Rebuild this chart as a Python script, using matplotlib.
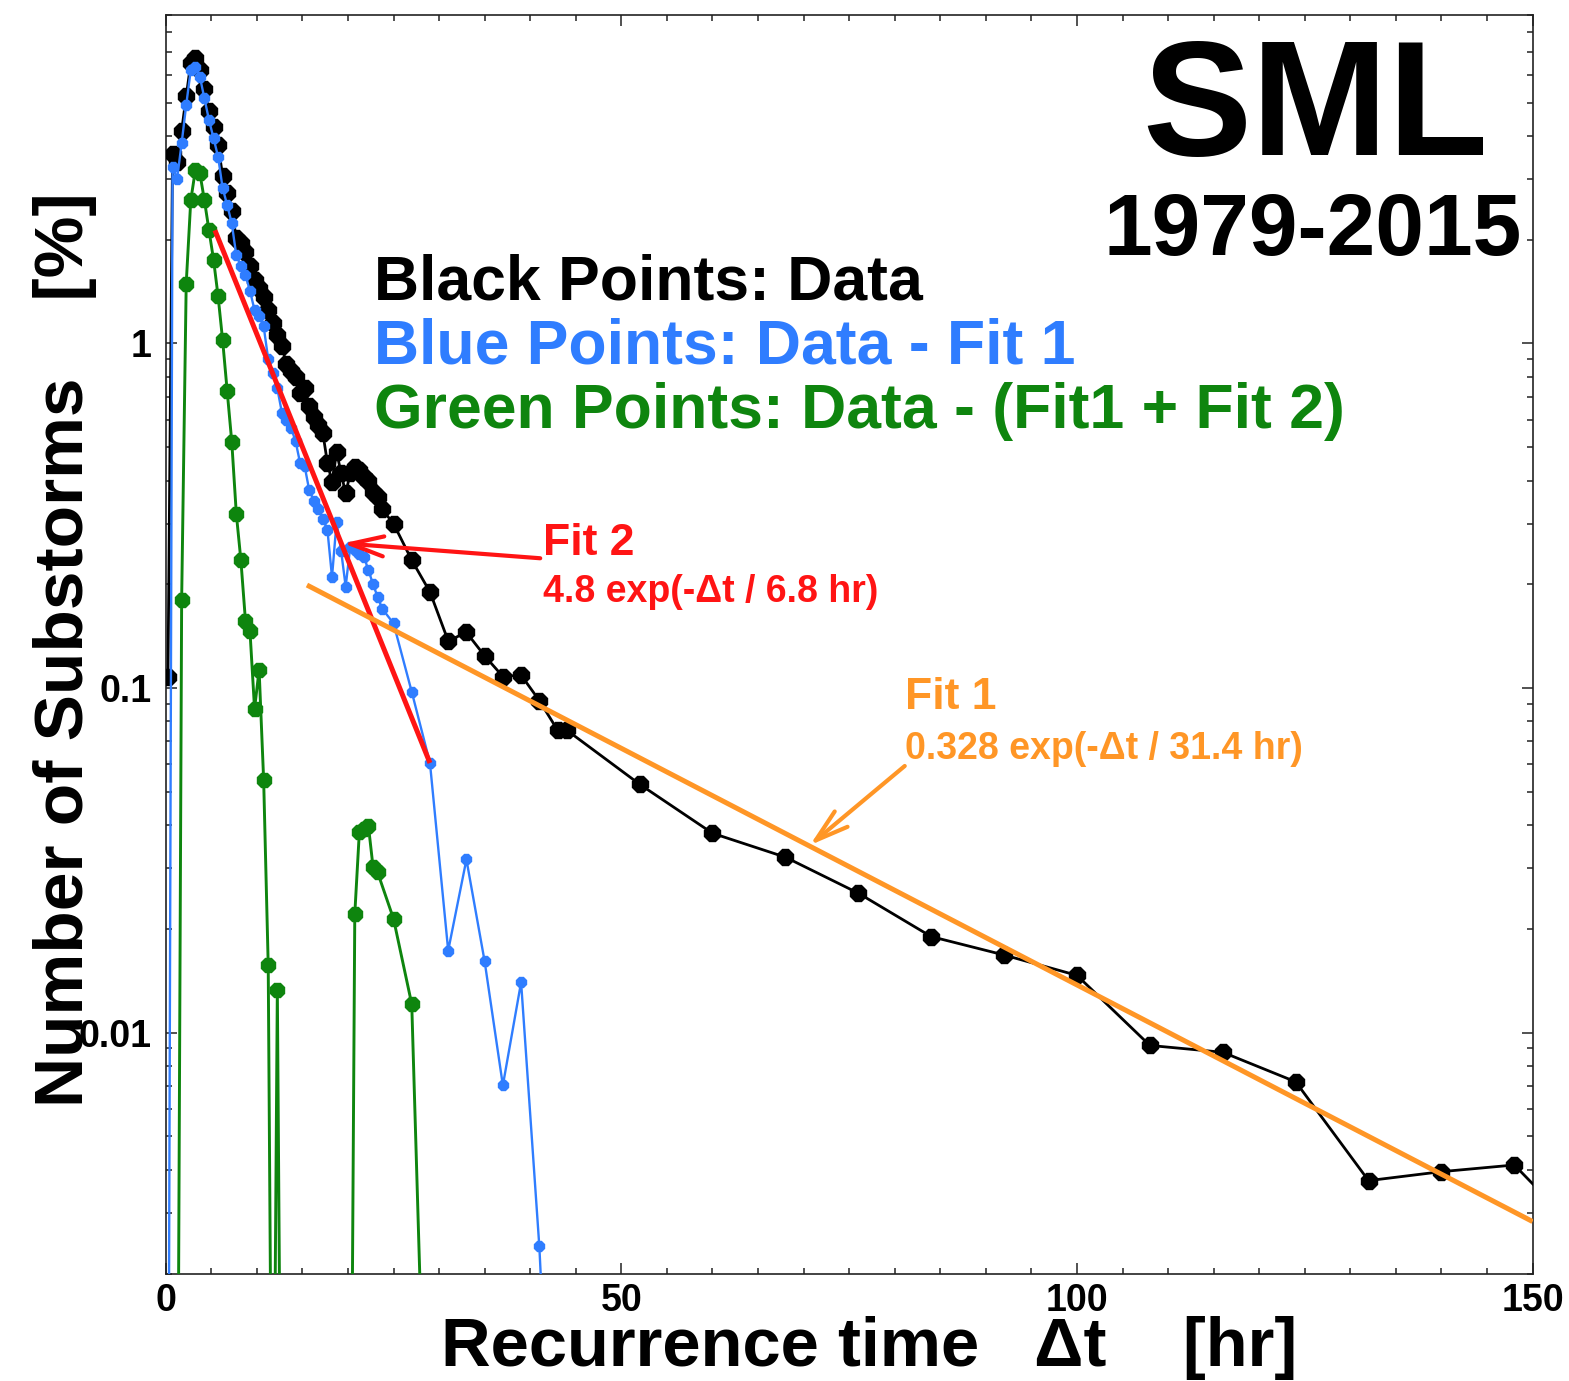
import matplotlib
matplotlib.use('Agg')
import matplotlib.pyplot as plt
from matplotlib.ticker import FixedLocator, FixedFormatter, NullFormatter

plt.rcParams['font.family'] = ['Liberation Sans', 'DejaVu Sans']
plt.rcParams['font.weight'] = 'bold'

# value used for bins where the difference is negative (drawn below the plot floor)
FLOOR = 2e-4

# ---------------- data (percent of substorms vs recurrence time, hr) ----------------
t_black = [0.25, 0.75, 1.25, 1.75, 2.25, 2.75, 3.25, 3.75, 4.25, 4.75, 5.25, 5.75,
           6.25, 6.75, 7.25, 7.75, 8.25, 8.75, 9.25, 9.75, 10.25, 10.75, 11.25, 11.75,
           12.25, 12.75, 13.25, 13.75, 14.25, 14.75, 15.25, 15.75, 16.25, 16.75, 17.25, 17.75,
           18.25, 18.75, 19.25, 19.75, 20.25, 20.75, 21.25, 21.75, 22.25, 22.75, 23.25, 23.75,
           25, 27, 29, 31, 33, 35, 37, 39, 41, 43, 44,
           52, 60, 68, 76, 84, 92, 100, 108, 116, 124, 132, 140, 148, 156]
v_black = [0.108, 3.54, 3.37, 4.14, 5.22, 6.5, 6.72, 6.21, 5.46, 4.72, 4.25, 3.76,
           3.06, 2.74, 2.43, 2.02, 1.95, 1.84, 1.68, 1.53, 1.45, 1.36, 1.25, 1.15,
           1.06, 0.98, 0.87, 0.83, 0.80, 0.72, 0.74, 0.66, 0.61, 0.58, 0.548, 0.45,
           0.397, 0.485, 0.42, 0.367, 0.42, 0.438, 0.43, 0.41, 0.40, 0.37, 0.358, 0.33,
           0.30, 0.235, 0.19, 0.137, 0.145, 0.124, 0.108, 0.109, 0.092, 0.0755, 0.0755,
           0.0526, 0.0379, 0.0323, 0.0254, 0.0190, 0.0168, 0.01466, 0.00918, 0.00877,
           0.0072, 0.00372, 0.00395, 0.00413, 0.0025]

t_blue = [0.25, 0.75, 1.25, 1.75, 2.25, 2.75, 3.25, 3.75, 4.25, 4.75, 5.25, 5.75,
          6.25, 6.75, 7.25, 7.75, 8.25, 8.75, 9.25, 9.75, 10.25, 10.75, 11.25, 11.75,
          12.25, 12.75, 13.25, 13.75, 14.25, 14.75, 15.25, 15.75, 16.25, 16.75, 17.25, 17.75,
          18.25, 18.75, 19.25, 19.75, 20.25, 20.75, 21.25, 21.75, 22.25, 22.75, 23.25, 23.75,
          25, 27, 29, 31, 33, 35, 37, 39, 41, 43]
v_blue = [FLOOR, 3.25, 3.01, 3.81, 4.92, 6.21, 6.35, 5.94, 5.14, 4.45, 3.94, 3.48,
          2.82, 2.52, 2.23, 1.80, 1.68, 1.58, 1.42, 1.25, 1.20, 1.12, 0.90, 0.82,
          0.74, 0.63, 0.60, 0.57, 0.52, 0.45, 0.44, 0.375, 0.35, 0.33, 0.31, 0.287,
          0.21, 0.303, 0.25, 0.197, 0.257, 0.251, 0.245, 0.24, 0.22, 0.20, 0.184, 0.17,
          0.154, 0.0975, 0.0606, 0.0173, 0.0318, 0.0161, 0.00703, 0.0140, 0.0024, FLOOR]

t_green = [0.25, 0.75, 1.25, 1.75, 2.25, 2.75, 3.25, 3.75, 4.25, 4.75, 5.25, 5.75,
           6.25, 6.75, 7.25, 7.75, 8.25, 8.75, 9.25, 9.75, 10.25, 10.75, 11.25, 11.75,
           12.25, 12.75, 13.25, 13.75, 14.25, 14.75, 15.25, 15.75, 16.25, 16.75, 17.25, 17.75,
           18.25, 18.75, 19.25, 19.75, 20.25, 20.75, 21.25, 21.75, 22.25, 22.75, 23.25,
           25, 27, 29]
v_green = [FLOOR, FLOOR, FLOOR, 0.18, 1.49, 2.6, 3.18, 3.12, 2.6, 2.13, 1.75, 1.37,
           1.02, 0.726, 0.518, 0.32, 0.235, 0.157, 0.146, 0.087, 0.113, 0.054, 0.0157, FLOOR,
           0.0133, FLOOR, FLOOR, FLOOR, FLOOR, FLOOR, FLOOR, FLOOR, FLOOR, FLOOR, FLOOR, FLOOR,
           FLOOR, FLOOR, FLOOR, FLOOR, FLOOR, 0.0221, 0.0382, 0.039, 0.0397, 0.0303, 0.0292,
           0.0214, 0.0121, FLOOR]

# fit lines (end points)
t_fit2 = [5.4, 29.0]
v_fit2 = [2.13, 0.0606]
t_fit1 = [15.5, 150.0]
v_fit1 = [0.199, 0.00283]

x_major = [0, 50, 100, 150]
x_labels = ['0', '50', '100', '150']
y_major = [0.01, 0.1, 1]
y_labels = ['0.01', '0.1', '1']

# ---------------- figure ----------------
W, H = 1569, 1381
fig = plt.figure(figsize=(W / 100, H / 100), dpi=100)
x0, x1, ytop, ybot = 165.7, 1532.6, 14.6, 1273.5
ax = fig.add_axes([x0 / W, 1 - ybot / H, (x1 - x0) / W, (ybot - ytop) / H])
ax.set_yscale('log')
ax.set_xlim(0, 150)
ax.set_ylim(0.002, 9)

BLACK = '#000000'
BLUE = '#2f7dff'
GREEN = '#0e850e'
RED = '#ff1414'
ORANGE = '#ff9626'

ax.plot(t_black, v_black, color=BLACK, lw=2.0, marker='8', ms=13, mec=BLACK, mfc=BLACK, zorder=3)
ax.plot(t_blue, v_blue, color=BLUE, lw=1.7, marker='8', ms=7.5, mec=BLUE, mfc=BLUE, zorder=4)
ax.plot(t_green, v_green, color=GREEN, lw=2.1, marker='8', ms=11.5, mec=GREEN, mfc=GREEN, zorder=5)
ax.plot(t_fit2, v_fit2, color=RED, lw=3.6, solid_capstyle='butt', zorder=6)
ax.plot(t_fit1, v_fit1, color=ORANGE, lw=3.6, solid_capstyle='butt', zorder=6)

# arrows
ax.annotate('', xy=(19.46, 0.263), xytext=(41.1, 0.238),
            arrowprops=dict(arrowstyle='->,head_length=0.6,head_width=0.18', color=RED,
                            lw=3, shrinkA=0, shrinkB=0, mutation_scale=40), zorder=7)
ax.annotate('', xy=(70.7, 0.035), xytext=(81.1, 0.0594),
            arrowprops=dict(arrowstyle='->,head_length=0.6,head_width=0.18', color=ORANGE,
                            lw=3, shrinkA=0, shrinkB=0, mutation_scale=40), zorder=7)

# ticks
ax.xaxis.set_major_locator(FixedLocator(x_major))
ax.xaxis.set_major_formatter(FixedFormatter(x_labels))
ax.xaxis.set_minor_locator(FixedLocator(list(range(0, 151, 5))))
ax.yaxis.set_major_locator(FixedLocator(y_major))
ax.yaxis.set_major_formatter(FixedFormatter(y_labels))
ax.yaxis.set_minor_locator(FixedLocator([m * 10.0 ** e for e in (-3, -2, -1, 0) for m in range(2, 10)]))
ax.yaxis.set_minor_formatter(NullFormatter())
ax.tick_params(which='both', direction='in', top=True, right=True, width=1.1, color='#222222')
ax.tick_params(which='major', length=8)
ax.tick_params(which='minor', length=4.3)
ax.tick_params(axis='x', which='major', pad=6.5, labelsize=27)
ax.tick_params(axis='y', which='major', pad=10, labelsize=27)
for lab in ax.get_xticklabels() + ax.get_yticklabels():
    lab.set_fontweight('bold')
for sp in ax.spines.values():
    sp.set_linewidth(1.2)
    sp.set_color('#222222')


def ftext(x, y, s, **kw):
    fig.text(x / W, 1 - y / H, s, **kw)


ftext(1315, 155, 'SML', fontsize=118, ha='center', va='baseline', fontweight='bold')
ftext(1313, 255, '1979-2015', fontsize=63, ha='center', va='baseline', fontweight='bold')
ftext(374, 300, 'Black Points: Data', fontsize=45, color=BLACK, va='baseline', fontweight='bold')
ftext(374, 364, 'Blue Points: Data - Fit 1', fontsize=45, color=BLUE, va='baseline', fontweight='bold')
ftext(374, 428, 'Green Points: Data - (Fit1 + Fit 2)', fontsize=45, color=GREEN, va='baseline', fontweight='bold')
ftext(543, 555, 'Fit 2', fontsize=32, color=RED, va='baseline', fontweight='bold')
ftext(543, 602, '4.8 exp(-\u0394t / 6.8 hr)', fontsize=27, color=RED, va='baseline', fontweight='bold')
ftext(905, 709, 'Fit 1', fontsize=32, color=ORANGE, va='baseline', fontweight='bold')
ftext(905, 759, '0.328 exp(-\u0394t / 31.4 hr)', fontsize=27, color=ORANGE, va='baseline', fontweight='bold')

ftext(869, 1366, 'Recurrence time   \u0394t    [hr]', fontsize=49.5, ha='center', va='baseline', fontweight='bold')
fig.text(83 / W, 1 - 650 / H, 'Number of Substorms    [%]', fontsize=50, rotation=90,
         rotation_mode='anchor', ha='center', va='baseline', fontweight='bold')

fig.savefig('out.png', dpi=100)
